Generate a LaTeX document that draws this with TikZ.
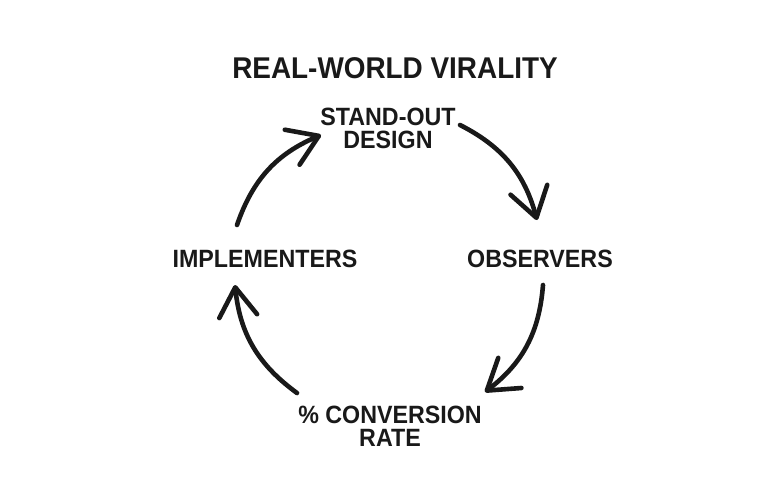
\documentclass[tikz,border=0pt]{standalone}
\usepackage{fontspec}
\setmainfont{Liberation Sans}
\newfontfamily\handfont[FakeStretch=0.93]{Liberation Sans Bold}
\usetikzlibrary{arrows.meta}
\tikzset{
  lbl/.style={font=\handfont\fontsize{25}{23}\selectfont, align=center, inner sep=0pt, text=black!90},
  ttl/.style={font=\handfont\fontsize{30}{30}\selectfont, inner sep=0pt, text=black!90},
  cyc/.style={line width=4.6pt, line cap=round, draw=black!90,
    -{Straight Barb[length=29pt, width=38pt, line width=4.6pt, round]}, bend left=24}
}
\begin{document}
\begin{tikzpicture}[x=1pt, y=-1pt]
\useasboundingbox (0,0) rectangle (783,490);
\node[ttl] (title) at (395,68) {REAL-WORLD VIRALITY};
\node[lbl] (design) at (388,128.5) {STAND-OUT\\DESIGN};
\node[lbl] (obs) at (540,259) {OBSERVERS};
\node[lbl] (impl) at (265,259) {IMPLEMENTERS};
\node[lbl] (conv) at (390,426) {\% CONVERSION\\RATE};
\coordinate (a1s) at (460,125);
\coordinate (a1e) at (537,220);
\coordinate (a2s) at (543,285);
\coordinate (a2e) at (485,392);
\coordinate (a3s) at (297,393);
\coordinate (a3e) at (235,285);
\coordinate (a4s) at (237,225);
\coordinate (a4e) at (321,135);
\draw[cyc] (a1s) to (a1e);
\draw[cyc] (a2s) to (a2e);
\draw[cyc] (a3s) to (a3e);
\draw[cyc] (a4s) to (a4e);
\end{tikzpicture}
\end{document}
